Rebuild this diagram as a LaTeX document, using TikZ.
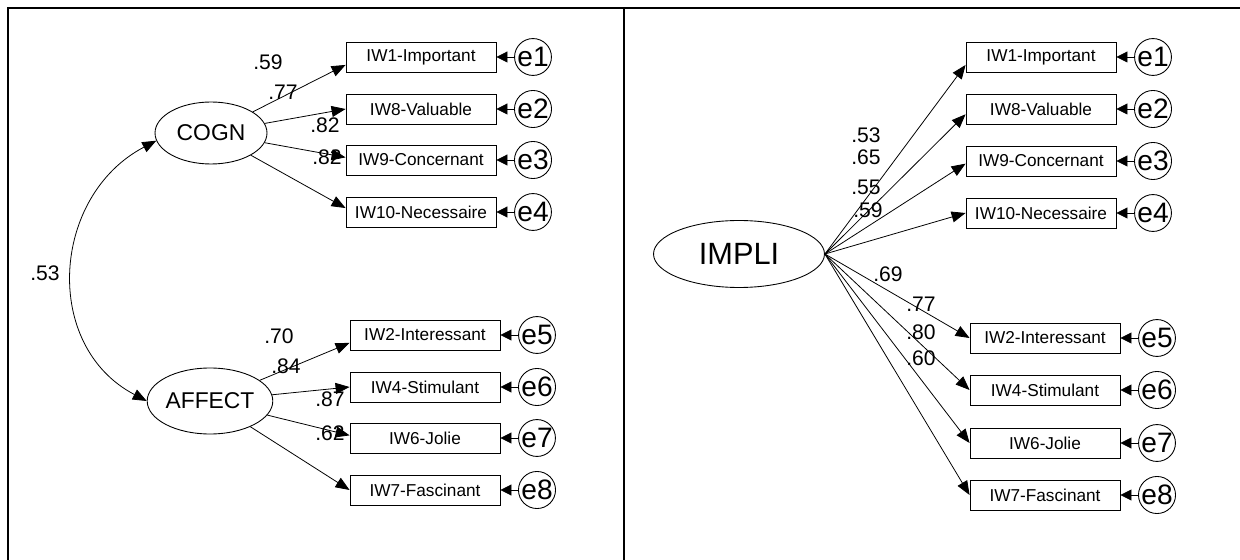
\documentclass[tikz,border=0pt]{standalone}
\usepackage{fontspec}
\setmainfont{Liberation Sans}
\usetikzlibrary{arrows.meta,shapes.geometric}

\begin{document}
\begin{tikzpicture}[x=0.02cm,y=-0.02cm]

            \tikzset{
                frameline/.style={line width=1.2pt},
                latent/.style={
                    ellipse,
                    draw,
                    line width=0.5pt,
                    inner sep=0pt,
                    font=\fontsize{13}{15}\selectfont
                },
                indbox/.style={
                    draw,
                    line width=0.5pt,
                    minimum width=3cm,
                    minimum height=0.6cm,
                    inner sep=0pt,
                    font=\fontsize{9.8}{11}\selectfont
                },
                errcirc/.style={
                    circle,
                    draw,
                    line width=0.5pt,
                    minimum size=0.7cm,
                    inner sep=0pt,
                    font=\fontsize{16}{18}\selectfont
                },
                load/.style={-{Triangle[length=0.28cm,width=0.22cm]}, line width=0.45pt},
                errarrow/.style={-{Triangle[length=0.22cm,width=0.22cm]}, line width=0.45pt},
                coef/.style={font=\fontsize{12}{14}\selectfont, inner sep=0pt}
            }

            \newcommand{\IndBox}[5]{%
                \node[indbox] (#1) at (#2,#3) {#4};
                \node[errcirc] (#1e) at (#2+112,#3) {#5};
                \draw[errarrow] (#1e) -- (#1);
            }

            \useasboundingbox (0,0) rectangle (1240,560);
            \draw[frameline] (8,560) -- (8,8) -- (1240,8);
            \draw[frameline] (624,8) -- (624,560);

            \node[latent, minimum width=2.24cm, minimum height=1.24cm] (cogn) at (211,133) {COGN};
            \node[latent, minimum width=2.24cm, minimum height=1.32cm] (affect) at (210,401) {AFFECT};

            \IndBox{cogA}{421}{57}{IW1-Important}{e1}
            \IndBox{cogB}{421}{109}{IW8-Valuable}{e2}
            \IndBox{cogC}{421}{160}{IW9-Concernant}{e3}
            \IndBox{cogD}{421}{212}{IW10-Necessaire}{e4}

            \IndBox{affA}{425}{335}{IW2-Interessant}{e5}
            \IndBox{affB}{425}{387}{IW4-Stimulant}{e6}
            \IndBox{affC}{425}{438}{IW6-Jolie}{e7}
            \IndBox{affD}{425}{490}{IW7-Fascinant}{e8}

            \draw[load] (cogn) -- (cogA.186);
            \draw[load] (cogn) -- (cogB.west);
            \draw[load] (cogn) -- (cogC.178);
            \draw[load] (cogn) -- (cogD.177);
            \draw[load] (affect) -- (affA.186);
            \draw[load] (affect) -- (affB.west);
            \draw[load] (affect) -- (affC.178);
            \draw[load] (affect) -- (affD.west);

            \draw[load, {Triangle[length=0.28cm,width=0.22cm]}-{Triangle[length=0.28cm,width=0.22cm]}]
                (cogn.188) .. controls +(-105,55) and +(-105,-55) .. (affect.west);

            \node[coef] (cogAl) at (268,62) {.59};
            \node[coef] (cogBl) at (283,92) {.77};
            \node[coef] (cogCl) at (325,125) {.82};
            \node[coef] (cogDl) at (327,157) {.82};
            \node[coef] (affAl) at (279,336) {.70};
            \node[coef] (affBl) at (286,366) {.84};
            \node[coef] (affCl) at (330,399) {.87};
            \node[coef] (affDl) at (330,433) {.62};
            \node[coef] (covl) at (45,273) {.53};

            \node[latent, minimum width=3.42cm, minimum height=1.34cm, font=\fontsize{17.5}{20}\selectfont] (impli) at (739,254) {IMPLI};

            \IndBox{impA}{1041}{57}{IW1-Important}{e1}
            \IndBox{impB}{1041}{109}{IW8-Valuable}{e2}
            \IndBox{impC}{1041}{161}{IW9-Concernant}{e3}
            \IndBox{impD}{1041}{213}{IW10-Necessaire}{e4}
            \IndBox{impE}{1045}{338}{IW2-Interessant}{e5}
            \IndBox{impF}{1045}{390}{IW4-Stimulant}{e6}
            \IndBox{impG}{1045}{443}{IW6-Jolie}{e7}
            \IndBox{impH}{1045}{495}{IW7-Fascinant}{e8}

            \draw[load] (impli.east) -- (impA.186);
            \draw[load] (impli.east) -- (impB.184);
            \draw[load] (impli.east) -- (impC.182);
            \draw[load] (impli.east) -- (impD.west);
            \draw[load] (impli.east) -- (impE.west);
            \draw[load] (impli.east) -- (impF.west);
            \draw[load] (impli.east) -- (impG.west);
            \draw[load] (impli.east) -- (impH.west);

            \node[coef] (impAl) at (866,135) {.53};
            \node[coef] (impBl) at (866,157) {.65};
            \node[coef] (impCl) at (866,187) {.55};
            \node[coef] (impDl) at (868,210) {.59};
            \node[coef] (impEl) at (888,274) {.69};
            \node[coef] (impFl) at (921,304) {.77};
            \node[coef] (impGl) at (921,332) {.80};
            \node[coef] (impHl) at (921,358) {.60};

        \end{tikzpicture}
\end{document}
